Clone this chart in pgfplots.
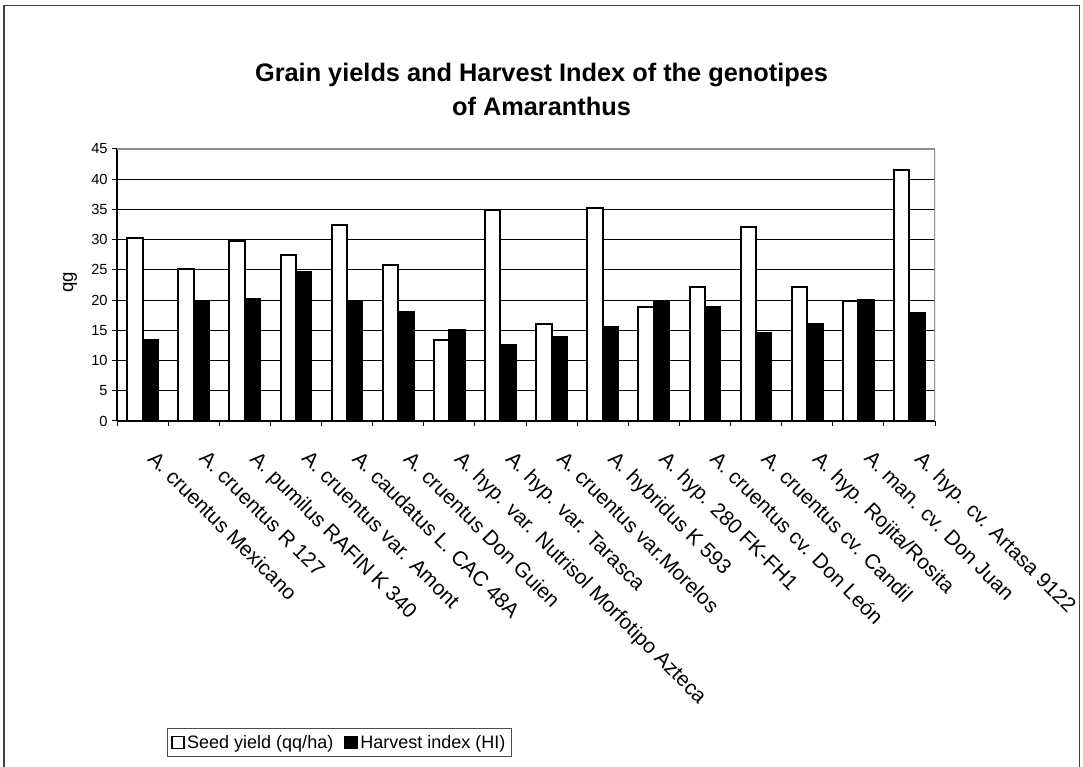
\documentclass[border=0pt]{standalone}
\usepackage{pgfplots}
\pgfplotsset{compat=1.18}
\usepackage{fontspec}
\setmainfont{Liberation Sans}
\begin{document}
\begin{tikzpicture}
\useasboundingbox (0pt,0pt) rectangle (812.25pt,575.25pt);
\draw[line width=0.9pt, black!75] (3pt,-20pt) -- (3pt,571pt) -- (809.5pt,571pt) -- (809.5pt,-20pt);
\begin{axis}[
 at={(87.75pt,259.5pt)}, anchor=south west,
 scale only axis, width=613.5pt, height=204pt,
 xmin=-0.5, xmax=15.5, ymin=0, ymax=45,
 axis x line*=bottom, axis y line*=left,
 axis line style={line width=1pt, black},
 ytick={0,5,...,45},
 /pgf/number format/assume math mode=true,
 yticklabel style={font=\fontsize{11}{13}\selectfont},
 tick align=outside,
 major tick length=3.5pt,
 tick style={black, line width=0.75pt},
 xtick={-0.5,0.5,...,15.5}, xticklabels={},
 extra x ticks={0,1,...,15},
 extra x tick labels={{A. cruentus Mexicano},{A. cruentus R 127},{A. pumilus RAFIN K 340},{A. cruentus var. Amont},{A. caudatus L. CAC 48A},{A. cruentus Don Guien},{A. hyp. var. Nutrisol Morfotipo Azteca},{A. hyp. var. Tarasca},{A. cruentus var.Morelos},{A. hybridus K 593},{A. hyp. 280 FK-FH1},{A. cruentus cv. Don León},{A. cruentus cv. Candil},{A. hyp. Rojita/Rosita},{A. man. cv. Don Juan},{A. hyp. cv. Artasa 9122}},
 extra x tick style={major tick length=0pt, xticklabel style={xshift=11.3pt, yshift=-21pt, rotate=-45, anchor=north west, inner sep=0pt, font=\fontsize{15.6}{18}\selectfont}},
 ymajorgrids, grid style={black, line width=0.6pt},
 ybar, bar width=0.3,
 ylabel={qg},
 ylabel style={font=\fontsize{14}{16}\selectfont, at={(axis description cs:-0.0575,0.51)}, anchor=center},
 title={Grain yields and Harvest Index of the genotipes\\of Amaranthus},
 title style={font=\bfseries\fontsize{19}{25.5}\selectfont, align=center, at={(axis description cs:0.519,1.189)}, anchor=center},
 legend columns=2,
 legend style={at={(axis description cs:0.0611,-1.182)}, anchor=west, draw=black!70, line width=0.75pt, font=\fontsize{13.5}{16}\selectfont, inner sep=2.5pt, /tikz/every even column/.append style={column sep=6pt}},
 legend image code/.code={\draw[#1, line width=1.3pt] (0pt,-4.5pt) rectangle (9pt,4.5pt);},
]
\addplot[ybar, bar shift=-0.15, fill=white, draw=black, line width=1.5pt] coordinates {
(0,30.3) (1,25.2) (2,29.8) (3,27.5) (4,32.5) (5,25.8) (6,13.4) (7,34.9)
(8,16.1) (9,35.2) (10,18.9) (11,22.1) (12,32.1) (13,22.1) (14,19.9) (15,41.5)};
\addlegendentry{Seed yield (qq/ha)}
\addplot[ybar, bar shift=0.15, fill=black, draw=black, line width=1.5pt] coordinates {
(0,13.4) (1,19.9) (2,20.2) (3,24.7) (4,19.9) (5,18.0) (6,15.0) (7,12.5)
(8,13.9) (9,15.5) (10,19.9) (11,18.8) (12,14.6) (13,16.1) (14,20.1) (15,17.9)};
\addlegendentry{Harvest index (HI)}
\draw[black!45, line width=1.5pt] (rel axis cs:0,1) -- (rel axis cs:1,1) -- (rel axis cs:1,0);
\end{axis}
\end{tikzpicture}
\end{document}
